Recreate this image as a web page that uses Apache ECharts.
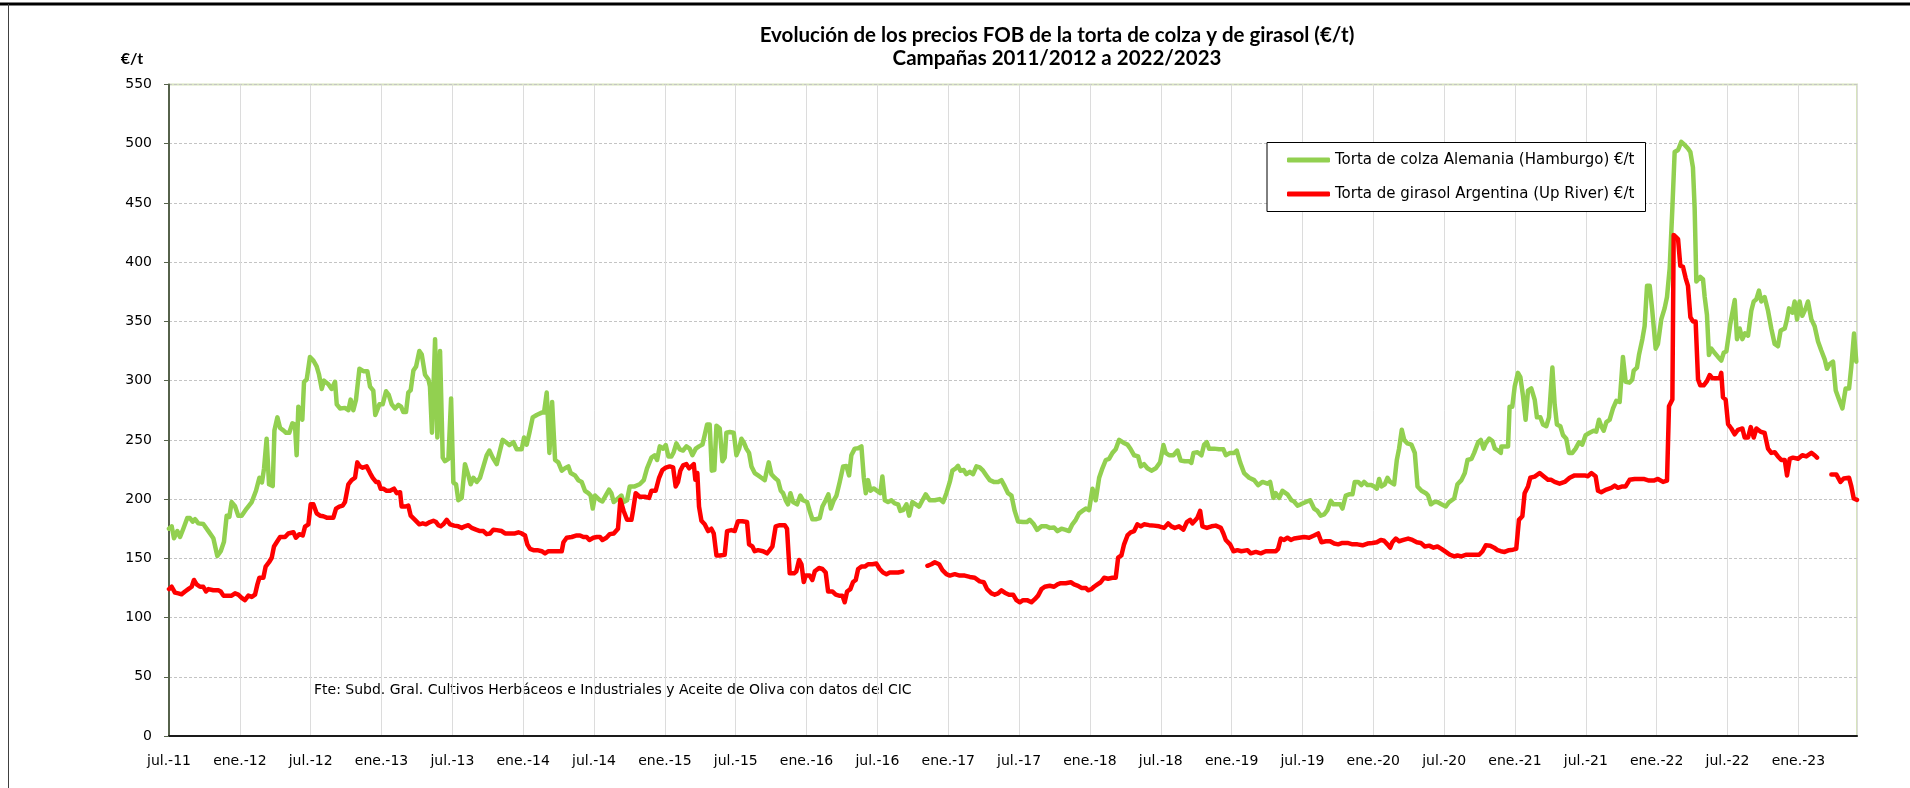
<!DOCTYPE html>
<html><head><meta charset="utf-8">
<script src="https://cdn.jsdelivr.net/npm/echarts@6/dist/echarts.min.js"></script>
<style>html,body{margin:0;padding:0;background:#fff}#c{width:1910px;height:788px}</style>
</head><body><div id="c"></div>
<script>
// Fechas en años decimales (2011.5 = 1 jul 2011)
const colzaFechas = [2011.500,2011.519,2011.535,2011.559,2011.578,2011.601,2011.629,2011.648,2011.667,2011.684,2011.707,2011.742,2011.778,2011.813,2011.841,2011.865,2011.888,2011.907,2011.926,2011.942,2011.966,2011.989,2012.013,2012.048,2012.084,2012.114,2012.138,2012.156,2012.171,2012.189,2012.206,2012.232,2012.244,2012.265,2012.284,2012.307,2012.326,2012.349,2012.371,2012.389,2012.401,2012.413,2012.425,2012.441,2012.453,2012.472,2012.495,2012.519,2012.542,2012.559,2012.578,2012.594,2012.625,2012.648,2012.672,2012.684,2012.707,2012.742,2012.766,2012.782,2012.801,2012.820,2012.844,2012.872,2012.900,2012.919,2012.942,2012.956,2012.985,2013.008,2013.032,2013.051,2013.072,2013.095,2013.119,2013.138,2013.154,2013.173,2013.189,2013.206,2013.225,2013.244,2013.267,2013.284,2013.307,2013.331,2013.342,2013.356,2013.378,2013.394,2013.413,2013.432,2013.448,2013.472,2013.491,2013.507,2013.526,2013.542,2013.566,2013.589,2013.613,2013.629,2013.648,2013.672,2013.695,2013.719,2013.742,2013.761,2013.785,2013.813,2013.832,2013.855,2013.879,2013.902,2013.931,2013.954,2013.989,2014.006,2014.025,2014.044,2014.067,2014.095,2014.131,2014.147,2014.166,2014.185,2014.204,2014.225,2014.248,2014.272,2014.295,2014.319,2014.335,2014.366,2014.389,2014.413,2014.436,2014.460,2014.476,2014.491,2014.507,2014.542,2014.559,2014.587,2014.606,2014.622,2014.639,2014.669,2014.693,2014.709,2014.733,2014.752,2014.787,2014.822,2014.851,2014.874,2014.905,2014.928,2014.945,2014.964,2014.987,2015.006,2015.025,2015.046,2015.062,2015.081,2015.105,2015.128,2015.152,2015.175,2015.194,2015.218,2015.241,2015.265,2015.281,2015.298,2015.316,2015.331,2015.349,2015.364,2015.387,2015.406,2015.422,2015.434,2015.458,2015.486,2015.505,2015.524,2015.540,2015.556,2015.575,2015.594,2015.611,2015.634,2015.658,2015.681,2015.705,2015.716,2015.733,2015.752,2015.775,2015.799,2015.818,2015.834,2015.853,2015.869,2015.886,2015.905,2015.933,2015.956,2015.975,2016.004,2016.022,2016.041,2016.069,2016.093,2016.112,2016.135,2016.154,2016.171,2016.192,2016.211,2016.234,2016.258,2016.281,2016.300,2016.316,2016.340,2016.364,2016.387,2016.404,2016.418,2016.434,2016.451,2016.474,2016.498,2016.521,2016.535,2016.552,2016.575,2016.599,2016.622,2016.646,2016.662,2016.681,2016.705,2016.724,2016.747,2016.771,2016.794,2016.818,2016.841,2016.869,2016.905,2016.940,2016.964,2016.987,2017.011,2017.029,2017.053,2017.069,2017.086,2017.109,2017.128,2017.152,2017.175,2017.199,2017.222,2017.246,2017.269,2017.293,2017.321,2017.352,2017.375,2017.399,2017.422,2017.446,2017.469,2017.493,2017.528,2017.556,2017.575,2017.604,2017.627,2017.658,2017.693,2017.716,2017.747,2017.771,2017.799,2017.829,2017.853,2017.876,2017.900,2017.924,2017.947,2017.971,2017.994,2018.018,2018.041,2018.065,2018.088,2018.112,2018.135,2018.159,2018.182,2018.206,2018.236,2018.265,2018.288,2018.312,2018.340,2018.359,2018.382,2018.406,2018.434,2018.465,2018.495,2018.519,2018.535,2018.559,2018.589,2018.618,2018.641,2018.669,2018.700,2018.716,2018.731,2018.759,2018.787,2018.806,2018.825,2018.841,2018.876,2018.912,2018.942,2018.959,2018.989,2019.018,2019.036,2019.060,2019.088,2019.124,2019.159,2019.187,2019.218,2019.253,2019.272,2019.295,2019.312,2019.335,2019.359,2019.394,2019.422,2019.441,2019.465,2019.488,2019.524,2019.554,2019.582,2019.606,2019.629,2019.653,2019.676,2019.700,2019.719,2019.747,2019.766,2019.782,2019.806,2019.829,2019.853,2019.869,2019.893,2019.916,2019.935,2019.959,2019.987,2020.006,2020.025,2020.041,2020.058,2020.081,2020.100,2020.119,2020.147,2020.166,2020.182,2020.201,2020.218,2020.241,2020.269,2020.293,2020.312,2020.340,2020.371,2020.387,2020.406,2020.429,2020.453,2020.481,2020.512,2020.535,2020.571,2020.594,2020.622,2020.646,2020.665,2020.693,2020.712,2020.740,2020.759,2020.778,2020.794,2020.818,2020.841,2020.858,2020.881,2020.900,2020.904,2020.934,2020.951,2020.962,2020.981,2020.998,2021.021,2021.038,2021.056,2021.075,2021.092,2021.115,2021.139,2021.155,2021.179,2021.198,2021.221,2021.240,2021.264,2021.280,2021.296,2021.320,2021.339,2021.362,2021.381,2021.405,2021.428,2021.452,2021.475,2021.499,2021.527,2021.555,2021.574,2021.593,2021.609,2021.626,2021.645,2021.668,2021.692,2021.715,2021.739,2021.762,2021.781,2021.809,2021.828,2021.838,2021.861,2021.875,2021.899,2021.915,2021.932,2021.951,2021.969,2021.993,2022.009,2022.033,2022.056,2022.073,2022.092,2022.111,2022.127,2022.151,2022.174,2022.198,2022.221,2022.238,2022.256,2022.268,2022.280,2022.292,2022.308,2022.327,2022.339,2022.355,2022.369,2022.386,2022.409,2022.433,2022.456,2022.473,2022.492,2022.520,2022.551,2022.567,2022.586,2022.605,2022.624,2022.645,2022.668,2022.685,2022.704,2022.722,2022.739,2022.762,2022.786,2022.809,2022.833,2022.856,2022.875,2022.904,2022.920,2022.934,2022.958,2022.974,2022.991,2023.009,2023.028,2023.052,2023.068,2023.092,2023.115,2023.139,2023.162,2023.186,2023.202,2023.221,2023.245,2023.264,2023.287,2023.311,2023.322,2023.334,2023.358,2023.374,2023.393,2023.409];
const colzaPrecios = [175,177,167,173,168,175,184,184,181,183,179.5,179,173,167,152,156,164,186,185,197.5,194,186,186,192,197.5,207,218,214,226,251,212.5,211,258,269,260,258,256,256,264,263,237,278,275,267,299,301,320,317,312,305,293,300,297,293,299,280,276.5,277,275,284,275,284,310,308,308,295,291.5,271,280,280,291,288,280,276.5,279.5,278,273.5,273.5,290,292,308.5,312,325,322,305,301,295,256,335,252,325,235,232,234,285,214,212.5,199,201,229.5,220,212.5,218,214.5,218,227.6,237,241,235,229.5,239,250,248,245.6,248,242,242,252,246,256,269,271,273,273,290,239,282,233,231,224,226,227.6,222,220,216,214.5,207,205,203,192,203,199,198,204,208,205,197.5,200.5,203,197.5,199,210.7,210.7,212.5,216,226,235,237,233,244.5,242.6,245.6,236,236,239.6,247,242,241,244.5,242.6,237,242.6,244.5,246,254,263,263,224,224.5,262,259.6,232,235,256,256.6,256,237,242.6,251,248,242.6,239,227.6,222,220,218,216,222,231,221,218,215.6,207,205,199,195.6,205,197.5,195.6,203,199,197.5,190,183,183,184,193.7,199,204,192,199,203,214.5,227.6,228,220,237,242.6,243,244.5,218,205,216,207,209,207,205,219,199,197.5,199,196.4,195.6,190,190.7,195.6,186,197.5,195.6,193.7,199,204,199,199,200,197.5,205,214.5,224,226,228,224,224.5,221,223,221,227.6,226.8,224,220,216,214.5,214.5,216,210.7,205,203,190,181,180.6,180.6,182.5,178.7,174,177,177,175.7,176,173,175,174,173,178.7,182.5,188,190,192,190.7,208.8,199,218,226,233,234,239,242,250,247.6,246,242,237,236,227.6,229.5,226,224,226,231,245.6,239,237,237,241,232.5,232,232,230.6,239,239.6,237,246,248,242.6,242.6,242,242,237,239,239,241,231,222,218,216,211.8,214.5,213,214.5,201,205,201,207,204,199,198,194.5,195.6,197.5,199,192,190,186,187,190.7,198.6,195.6,195.6,195.6,192,203,204,204,214.5,214.5,211.8,214.5,211.8,211.8,210.7,208.8,217,210.7,212.5,218,214.5,212.5,233,242.6,258.5,250,247,246,239,210.7,207,205,203,195.6,197.5,197.5,195.6,193.7,197.5,200.5,212.5,216,222,233,234,239,248,250,242.6,247,251,249,242.6,241,239,244.5,244.5,244.5,278,278,295,306.6,303,287.8,267,291.6,293.4,284,269,269,263,261.5,269,311,280,263,261.5,254,251,239,239,242.6,248,246,254,256,257.7,257,267,261.5,257.7,265,267,276.5,283,282,320,299,298.3,301,308.5,311,321.6,335,346,380,380,359,327,331,352,361,370.6,395,446,493,494.7,501.5,499,496,493,480,446,383.7,383,387.5,385.6,370.6,355.5,321.6,327,323.5,320,317,323.5,324.7,348,368,335,344,335,340,338,359,366.8,368.7,376,366.8,370.6,359,344,331,329,342.3,344,351.7,361,357.4,366.8,351.7,366.8,354.8,361,366.8,351.7,346,333,325.4,318,310,314,316,291.6,284,276.5,275.8,293.4,293.4,312,339.7,316];

const girasolFechas = [2011.500,2011.519,2011.542,2011.566,2011.589,2011.613,2011.636,2011.660,2011.676,2011.695,2011.719,2011.742,2011.761,2011.778,2011.813,2011.848,2011.865,2011.884,2011.919,2011.942,2011.966,2011.989,2012.013,2012.036,2012.060,2012.084,2012.107,2012.124,2012.138,2012.166,2012.182,2012.206,2012.225,2012.241,2012.260,2012.284,2012.319,2012.342,2012.378,2012.396,2012.420,2012.444,2012.460,2012.484,2012.500,2012.519,2012.542,2012.566,2012.589,2012.613,2012.636,2012.660,2012.679,2012.702,2012.726,2012.742,2012.766,2012.789,2012.813,2012.829,2012.844,2012.867,2012.895,2012.919,2012.938,2012.961,2012.978,2012.994,2013.013,2013.036,2013.060,2013.088,2013.107,2013.131,2013.142,2013.166,2013.189,2013.206,2013.236,2013.267,2013.291,2013.314,2013.342,2013.366,2013.385,2013.401,2013.418,2013.436,2013.460,2013.484,2013.512,2013.542,2013.566,2013.589,2013.613,2013.636,2013.667,2013.695,2013.719,2013.742,2013.766,2013.789,2013.813,2013.848,2013.872,2013.895,2013.919,2013.942,2013.966,2013.989,2014.013,2014.029,2014.048,2014.072,2014.100,2014.131,2014.154,2014.178,2014.213,2014.248,2014.272,2014.284,2014.307,2014.342,2014.378,2014.401,2014.425,2014.448,2014.467,2014.495,2014.519,2014.542,2014.559,2014.587,2014.611,2014.639,2014.669,2014.686,2014.709,2014.733,2014.764,2014.775,2014.794,2014.822,2014.858,2014.888,2014.905,2014.935,2014.959,2014.982,2015.006,2015.034,2015.058,2015.076,2015.093,2015.109,2015.128,2015.152,2015.171,2015.187,2015.204,2015.215,2015.229,2015.241,2015.258,2015.281,2015.305,2015.328,2015.345,2015.364,2015.387,2015.422,2015.439,2015.469,2015.493,2015.516,2015.547,2015.580,2015.594,2015.618,2015.634,2015.658,2015.693,2015.721,2015.740,2015.759,2015.782,2015.811,2015.846,2015.862,2015.881,2015.912,2015.928,2015.947,2015.964,2015.980,2015.994,2016.022,2016.041,2016.058,2016.088,2016.112,2016.135,2016.152,2016.182,2016.206,2016.229,2016.253,2016.269,2016.286,2016.309,2016.328,2016.347,2016.364,2016.387,2016.411,2016.434,2016.465,2016.493,2016.516,2016.540,2016.564,2016.587,2016.622,2016.646,2016.676,2016.760,2016.853,2016.881,2016.905,2016.935,2016.959,2016.987,2017.011,2017.046,2017.081,2017.116,2017.152,2017.187,2017.222,2017.251,2017.274,2017.305,2017.328,2017.352,2017.375,2017.399,2017.429,2017.458,2017.481,2017.505,2017.528,2017.556,2017.587,2017.611,2017.634,2017.658,2017.681,2017.716,2017.747,2017.771,2017.794,2017.829,2017.865,2017.888,2017.916,2017.940,2017.971,2017.987,2018.011,2018.029,2018.053,2018.076,2018.100,2018.128,2018.159,2018.182,2018.199,2018.222,2018.241,2018.265,2018.288,2018.312,2018.335,2018.359,2018.382,2018.418,2018.453,2018.488,2018.524,2018.552,2018.575,2018.599,2018.629,2018.660,2018.684,2018.707,2018.724,2018.759,2018.778,2018.794,2018.825,2018.858,2018.888,2018.924,2018.942,2018.959,2018.989,2019.013,2019.041,2019.069,2019.112,2019.135,2019.171,2019.206,2019.241,2019.276,2019.312,2019.328,2019.347,2019.371,2019.394,2019.418,2019.441,2019.476,2019.512,2019.547,2019.582,2019.611,2019.634,2019.665,2019.695,2019.724,2019.752,2019.782,2019.818,2019.853,2019.888,2019.924,2019.959,2019.994,2020.025,2020.053,2020.076,2020.100,2020.119,2020.135,2020.159,2020.182,2020.213,2020.246,2020.276,2020.307,2020.335,2020.364,2020.394,2020.425,2020.453,2020.481,2020.512,2020.542,2020.571,2020.594,2020.622,2020.653,2020.688,2020.716,2020.747,2020.771,2020.794,2020.825,2020.853,2020.876,2020.900,2020.927,2020.958,2020.986,2021.009,2021.028,2021.052,2021.068,2021.092,2021.108,2021.139,2021.174,2021.202,2021.233,2021.256,2021.280,2021.315,2021.351,2021.386,2021.421,2021.456,2021.492,2021.515,2021.539,2021.569,2021.586,2021.609,2021.645,2021.680,2021.704,2021.727,2021.758,2021.781,2021.809,2021.845,2021.880,2021.908,2021.946,2021.979,2022.009,2022.045,2022.073,2022.087,2022.111,2022.120,2022.134,2022.151,2022.167,2022.186,2022.205,2022.221,2022.238,2022.256,2022.275,2022.292,2022.308,2022.332,2022.355,2022.374,2022.393,2022.416,2022.445,2022.456,2022.468,2022.487,2022.504,2022.527,2022.551,2022.574,2022.605,2022.621,2022.645,2022.664,2022.685,2022.704,2022.732,2022.762,2022.786,2022.809,2022.833,2022.856,2022.880,2022.904,2022.920,2022.939,2022.962,2022.998,2023.028,2023.056,2023.092,2023.115,2023.132,2023.180,2023.233,2023.268,2023.297,2023.320,2023.358,2023.374,2023.391,2023.414];
const girasolPrecios = [124,126,121,120.4,119.6,122,124,126,131.7,128,126,126,122,124,123,123,122,118.5,118.5,118.5,120.4,119.3,116.6,114.7,118.5,117.4,119.3,128,133.6,133.6,143,146.7,150.5,160,163.6,168,168,171,172,167.4,170.4,169.3,176.8,178.7,195.6,195.6,188,186,185.5,184.3,184.3,184.3,192,193.7,194.5,197.5,212.5,216,218,231,228,226.5,227.6,222,218,214.5,214.5,208.8,208.8,207,207,208.8,205,205.8,193.7,193.7,194.5,186,182.5,178.7,179.5,178.7,180.6,181.7,180.6,178,177,178.7,182.5,178.7,177.6,177,175.7,177,178,175.7,174.2,173,173,170.4,171,174.2,173.8,173,171,171,171,171,172,171,169.3,161.8,158,156.9,156.9,156,154.2,156,156,156,156,163.6,167.4,168,169.3,169.3,168,168,165.5,167.4,168,168,165.5,167.4,170.4,171,175,199.4,190,182.5,182.5,190,205,202,202,201,207,207,218,224.5,226.5,227.6,226.8,210.7,214.5,224,228.4,229.5,226,227.6,229.5,216.3,222,193.7,181.7,178.7,173,175,171,152.4,152.4,153,173,173.8,173,181.3,181.3,180.6,161.8,160,156,156.9,156,154.2,156.9,160,177,178,178,175,137.3,137.3,139,148.6,145,130,135.4,135.4,131.7,139,141.8,141,138,122,122,119.3,118.5,118.5,112.9,122,124,130,131.7,141,143,143,145,145,145.6,141,138,136.6,138,138,138,138.8,null,143.7,145,146.7,145,140,136.6,135.4,136.6,135.4,135.4,134.3,133.6,130.5,129.8,124,120.4,119.3,120.4,123,121,119.3,119.3,114.7,112.9,114.7,114.7,112.9,115.5,118.5,124,126,126.8,126,128,129,129,129.8,128,126.8,125,125,123,124,126,128,129.8,133.6,132.8,133.6,133.6,150.5,152.4,161.8,169.3,172,173,178.7,177,178.7,178,177.6,177,175.7,179.5,177,175.7,177,174.2,180.6,182.5,179.5,184.3,190,177,175.7,177,177.6,175.7,171,165.5,161.8,156,156.9,156,156.9,154.2,155.4,154.2,156,156,156,158,166.7,165.5,167.4,165.5,166.7,167.4,168,167.4,169.3,171,163.6,164.4,164.4,162.5,161.8,163,163,161.8,161.8,161,162.5,163,163.6,165.5,164.8,161.8,159,163.6,166.7,164.4,165.5,166.7,165.5,163.6,163,160,160.7,159,160,158,155.4,153,151.6,152.4,151.6,153,153,153,153,156,161,160.7,159,156.9,156,155.4,156.9,157.3,158,182.5,185.5,205,210.7,218,219,222,219.3,216.3,216.3,214.5,213,214.5,218,220,220,220,219.3,222,219.3,207,205.8,208,209.5,211.4,209.5,210.7,210.7,216.3,217,217,217,215.6,215.6,217,214.5,215.6,278.4,284,423,423,419.5,397,396,386.4,380,353.6,350,350,301,296,296,299.6,304.7,302,302,302,306.6,286,284,263.3,259.6,254.7,258.5,259.6,252,252,260.8,252,259.6,257,255.8,242.6,239,239.6,236,233,233,220,234,235,234,237,236,239,237,235,null,220.8,220.8,214.5,217.4,218,210.7,200.5,199.4];

const xTickLabels = ['jul.-11','ene.-12','jul.-12','ene.-13','jul.-13','ene.-14','jul.-14','ene.-15','jul.-15','ene.-16','jul.-16','ene.-17','jul.-17','ene.-18','jul.-18','ene.-19','jul.-19','ene.-20','jul.-20','ene.-21','jul.-21','ene.-22','jul.-22','ene.-23'];
const xMin = 2011.5, xMax = 2023.414, xStep = 0.5;
const yMin = 0, yMax = 550, yStep = 50;
const serieColza = 'Torta de colza Alemania (Hamburgo) €/t';
const serieGirasol = 'Torta de girasol Argentina (Up River) €/t';
const titulo1 = 'Evolución de los precios FOB de la torta de colza y de girasol (€/t)';
const titulo2 = 'Campañas 2011/2012 a 2022/2023';
const fuente = 'Fte: Subd. Gral. Cultivos Herbáceos e Industriales y Aceite de Oliva con datos del CIC';

const pair = (xs, ys) => xs.map((x, i) => [x, ys[i] === null ? '-' : ys[i]]);
const FONT = '"DejaVu Sans", Verdana, sans-serif';
const TFONT = 'bold 20.5px Lato, "Open Sans", sans-serif';

const chart = echarts.init(document.getElementById('c'), null, {renderer: 'canvas'});
chart.setOption({
  animation: false,
  backgroundColor: '#ffffff',
  grid: {left: 169, right: 53, top: 84.5, bottom: 52, show: true, borderColor: '#d7e4bd', borderWidth: 2, outerBoundsMode: 'none'},
  xAxis: {
    type: 'value', min: xMin, max: xMax, interval: xStep,
    axisLine: {show: true, lineStyle: {color: '#1a1a1a', width: 2}},
    axisTick: {show: false},
    axisLabel: {
      show: true, margin: 18, color: '#000', fontFamily: FONT, fontSize: 14, showMaxLabel: false,
      formatter: v => { const i = Math.round((v - xMin) / xStep); return (Math.abs(v - (xMin + i * xStep)) < 1e-6 && xTickLabels[i]) ? xTickLabels[i] : ''; }
    },
    splitLine: {show: true, lineStyle: {color: '#dcdcdc', width: 1}}
  },
  yAxis: {
    type: 'value', min: yMin, max: yMax, interval: yStep,
    axisLine: {show: true, lineStyle: {color: '#56624b', width: 2}},
    axisTick: {show: true, length: 5, lineStyle: {color: '#56624b', width: 1}},
    axisLabel: {margin: 17, color: '#000', fontFamily: FONT, fontSize: 14},
    splitLine: {show: true, lineStyle: {color: '#c4c4c4', width: 1, type: [3, 2]}}
  },
  legend: {
    orient: 'vertical', left: 1267, top: 142.5,
    backgroundColor: '#fff', borderColor: '#000', borderWidth: 1, borderRadius: 0,
    padding: [10, 11, 10, 20], itemGap: 19, itemWidth: 43, itemHeight: 5,
    textStyle: {fontFamily: FONT, fontSize: 15, color: '#000'},
    data: [{name: serieColza, icon: 'roundRect'}, {name: serieGirasol, icon: 'roundRect'}]
  },
  series: [
    {name: serieColza, type: 'line', data: pair(colzaFechas, colzaPrecios), showSymbol: false, symbol: 'none',
     color: '#92d050', lineStyle: {color: '#92d050', width: 4.5, join: 'round', cap: 'round'}, z: 3},
    {name: serieGirasol, type: 'line', data: pair(girasolFechas, girasolPrecios), showSymbol: false, symbol: 'none',
     connectNulls: false, color: '#ff0000', lineStyle: {color: '#ff0000', width: 4.5, join: 'round', cap: 'round'}, z: 4}
  ],
  graphic: [
    {type: 'line', shape: {x1: 0, y1: 4, x2: 1910, y2: 4}, style: {stroke: '#000', lineWidth: 3}},
    {type: 'line', shape: {x1: 8.5, y1: 4, x2: 8.5, y2: 788}, style: {stroke: '#404040', lineWidth: 1}},
    {type: 'text', x: 1057, y: 35.5, style: {text: titulo1, fill: '#000', font: TFONT, textAlign: 'center', textVerticalAlign: 'middle', align: 'center', verticalAlign: 'middle'}},
    {type: 'text', x: 1057, y: 58, style: {text: titulo2, fill: '#000', font: TFONT, textAlign: 'center', textVerticalAlign: 'middle', align: 'center', verticalAlign: 'middle'}},
    {type: 'text', x: 132, y: 59, style: {text: '€/t', fill: '#000', font: 'bold 16px Lato, "Open Sans", sans-serif', textAlign: 'center', textVerticalAlign: 'middle', align: 'center', verticalAlign: 'middle'}},
    {type: 'text', x: 314, y: 690, style: {text: fuente, fill: '#000', font: '14px "DejaVu Sans", Verdana, sans-serif', textAlign: 'left', textVerticalAlign: 'middle', align: 'left', verticalAlign: 'middle'}}
  ]
});
</script></body></html>
